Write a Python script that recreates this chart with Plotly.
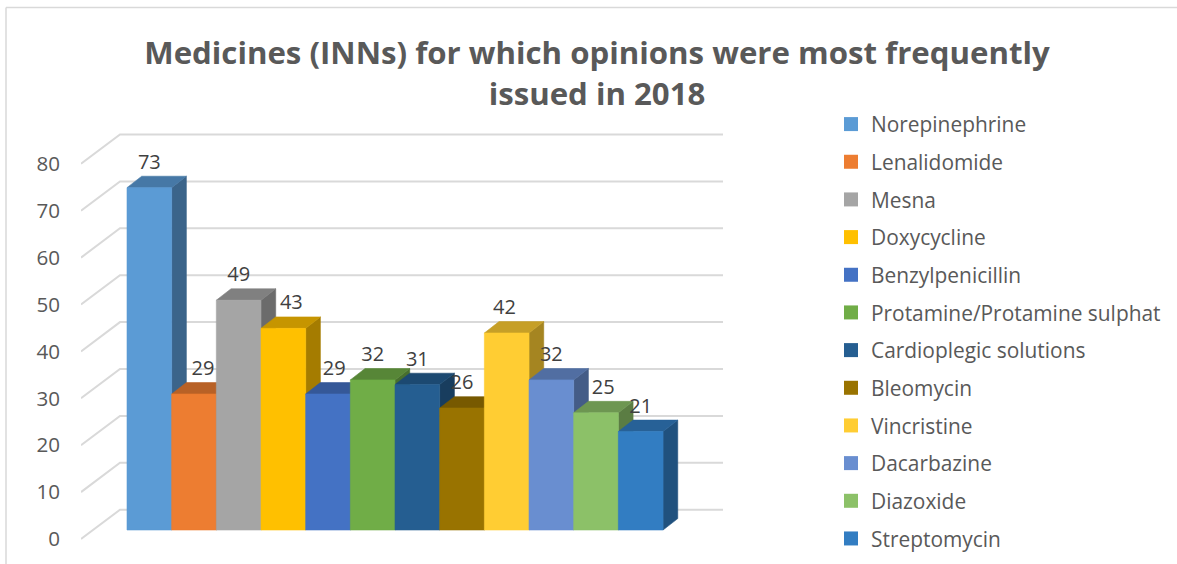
import plotly.graph_objects as go

medicines = ["Norepinephrine", "Lenalidomide", "Mesna", "Doxycycline", "Benzylpenicillin",
             "Protamine/Protamine sulphat", "Cardioplegic solutions", "Bleomycin", "Vincristine",
             "Dacarbazine", "Diazoxide", "Streptomycin"]
opinions = [73, 29, 49, 43, 29, 32, 31, 26, 42, 32, 25, 21]
colours = ["#5B9BD5", "#ED7D31", "#A5A5A5", "#FFC000", "#4472C4", "#70AD47",
           "#255E91", "#997300", "#FFCD33", "#698ED0", "#8CC168", "#327DC2"]
y_ticks = [0, 10, 20, 30, 40, 50, 60, 70, 80]
label_nudge = [0, 0.2, 0, 0.18, 0.14, 0, 0, 0, -0.05, 0, 0.16, 0]

W, H = 1177, 564
L, R, T, B = 81, 723, 120, 540       # plot area in pixels
PX_X = 44.67                         # pixels per bar
PX_Y = 4.69                          # pixels per value unit
x_min = -0.5 - (127 - L) / PX_X
x_max = -0.5 + (R - 127) / PX_X
y_min = (539 - B) / PX_Y
y_max = (539 - T) / PX_Y

WALL_DX, WALL_DY = 39 / PX_X, 29.3 / PX_Y
WALL_RIGHT = x_max
BAR_BASE = 9 / PX_Y
BAR_DX, BAR_DY = 14.7 / PX_X, 11.4 / PX_Y
GRID = "#D9D9D9"
TEXT = "#595959"
FONT = "Open Sans"


def shade(hex_colour, f):
    r, g, b = (int(hex_colour[i:i + 2], 16) for i in (1, 3, 5))
    return f"rgb({int(r * f)},{int(g * f)},{int(b * f)})"


def face(xs, ys, colour):
    return go.Scatter(x=xs, y=ys, mode="lines", fill="toself", fillcolor=colour,
                      line=dict(color=colour, width=0.6), hoverinfo="skip", showlegend=False)


fig = go.Figure()

for v in y_ticks:
    fig.add_trace(go.Scatter(x=[x_min, x_min + WALL_DX, WALL_RIGHT],
                             y=[v, v + WALL_DY, v + WALL_DY], mode="lines",
                             line=dict(color=GRID, width=2), hoverinfo="skip", showlegend=False))

for i, (name, v, c) in enumerate(zip(medicines, opinions, colours)):
    x0, x1 = i - 0.5, i + 0.5
    y0, y1 = BAR_BASE, BAR_BASE + v
    fig.add_trace(face([x1, x1 + BAR_DX, x1 + BAR_DX, x1, x1],
                       [y0, y0 + BAR_DY, y1 + BAR_DY, y1, y0], shade(c, 0.65)))
    fig.add_trace(face([x0, x0 + BAR_DX, x1 + BAR_DX, x1, x0],
                       [y1, y1 + BAR_DY, y1 + BAR_DY, y1, y1], shade(c, 0.78)))
    fig.add_trace(face([x0, x1, x1, x0, x0], [y0, y0, y1, y1, y0], c))

for i, (name, c) in enumerate(zip(medicines, colours)):
    fig.add_trace(go.Scatter(x=[None], y=[None], mode="markers", name=name, legendgroup=name,
                             marker=dict(symbol="square", size=14, color=c)))

fig.add_trace(go.Scatter(
    x=[i + d for i, d in enumerate(label_nudge)],
    y=[v + BAR_BASE + 24 / PX_Y for v in opinions],
    text=[str(v) for v in opinions], mode="text",
    textfont=dict(family=FONT, size=20, color="#404040"),
    hoverinfo="skip", showlegend=False))

plot_w, plot_h = R - L, B - T
shapes = [
    dict(type="line", xref="paper", yref="paper", x0=(6 - L) / plot_w, x1=(W - L) / plot_w,
         y0=(B - 7.5) / plot_h, y1=(B - 7.5) / plot_h, line=dict(color=GRID, width=1.5)),
    dict(type="line", xref="paper", yref="paper", x0=(6 - L) / plot_w, x1=(6 - L) / plot_w,
         y0=(B - 7.5) / plot_h, y1=(B - H) / plot_h, line=dict(color=GRID, width=1.5)),
]

fig.update_layout(
    width=W, height=H,
    margin=dict(l=L, r=W - R, t=T, b=H - B, pad=0, autoexpand=False),
    paper_bgcolor="white", plot_bgcolor="white",
    font=dict(family=FONT, color=TEXT, size=20),
    title=dict(text="<b>Medicines (INNs) for which opinions were most frequently<br>issued in 2018</b>",
               font=dict(family=FONT, size=31.2, color=TEXT),
               x=597 / W, xanchor="center", xref="container",
               y=1 - 64 / H, yanchor="top", yref="container"),
    xaxis=dict(range=[x_min, x_max], visible=False, fixedrange=True),
    yaxis=dict(range=[y_min, y_max], tickvals=y_ticks, showgrid=False, zeroline=False,
               showline=False, ticks="", ticklabelstandoff=20,
               tickfont=dict(family=FONT, size=20.6, color=TEXT), fixedrange=True),
    legend=dict(x=(831 - L) / plot_w, xanchor="left", y=(B - 104) / plot_h, yanchor="top",
                font=dict(family=FONT, size=20.9, color=TEXT), tracegroupgap=7.5, maxheight=460,
                bgcolor="rgba(0,0,0,0)", itemclick=False, itemdoubleclick=False),
    shapes=shapes,
    showlegend=True,
)

fig.write_html("out.html", config={"displayModeBar": False},
               post_script="document.body.style.margin='0';document.documentElement.style.overflow='hidden';")
